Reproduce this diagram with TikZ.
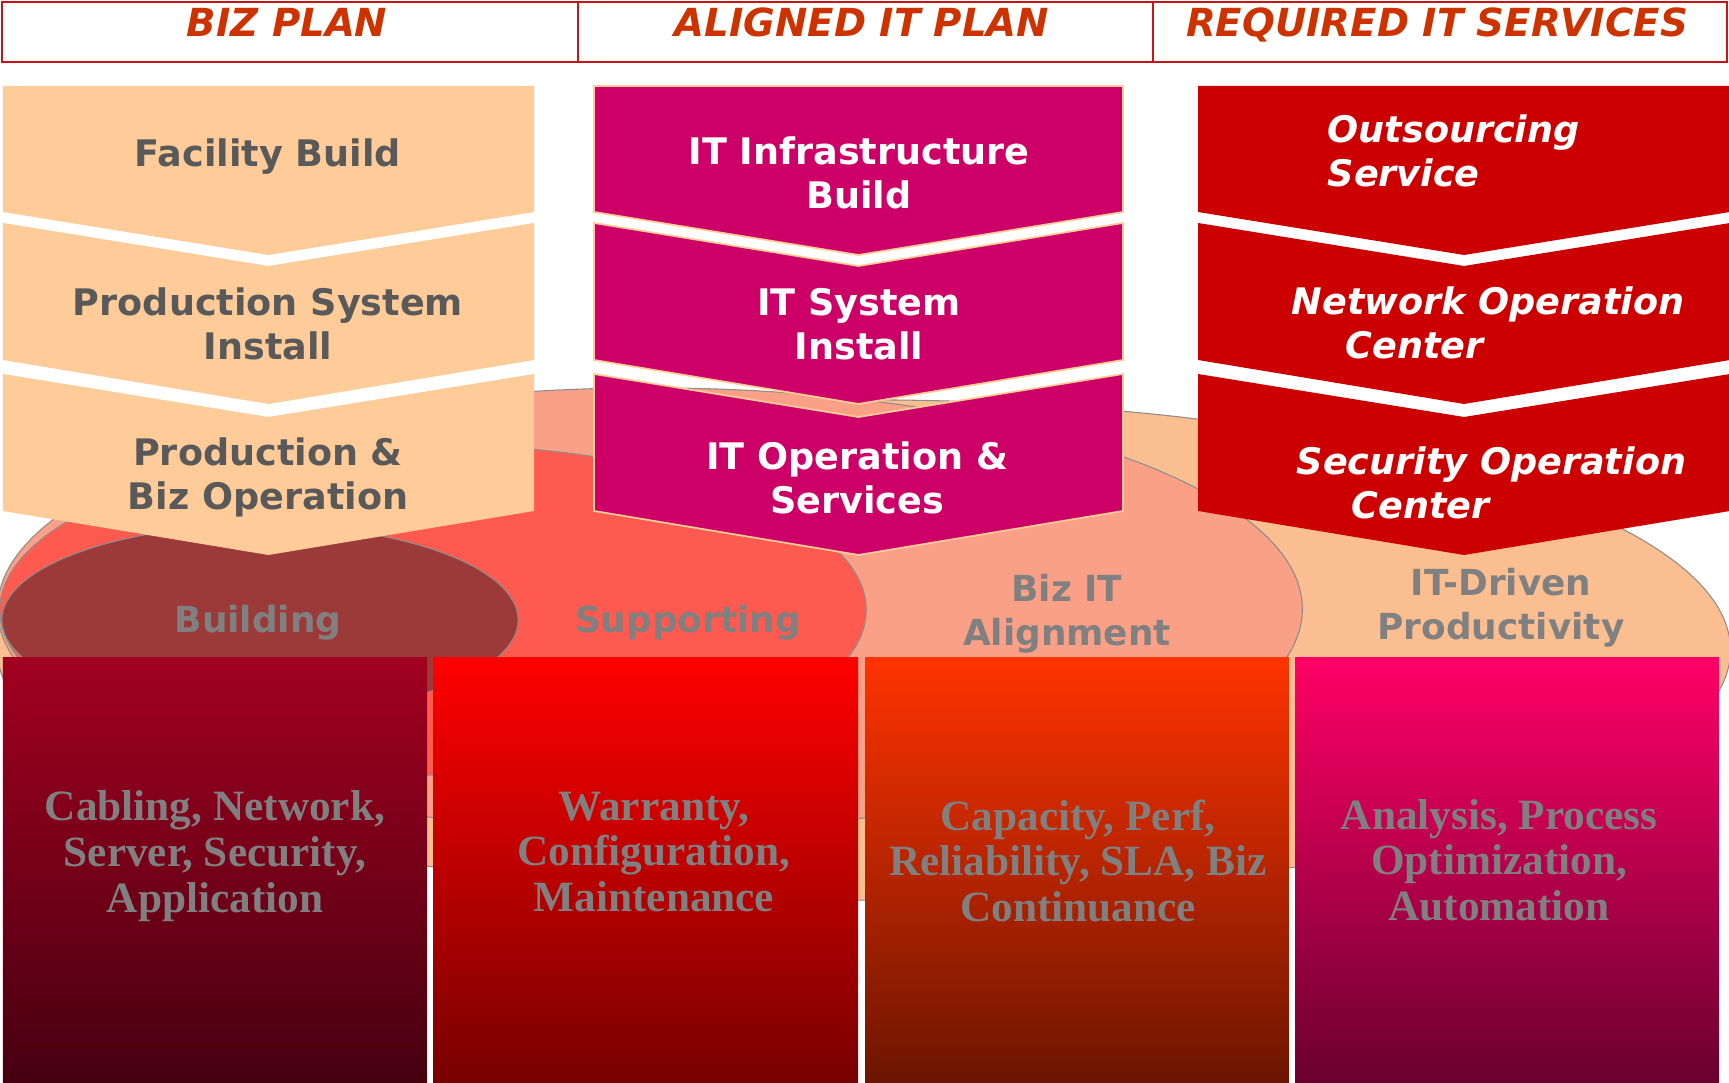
\documentclass[tikz,border=0pt]{standalone}
\usepackage{fontspec}
\newfontfamily\tahoma{DejaVu Sans}
\newfontfamily\georgia{Liberation Serif}

\definecolor{bizfill}{RGB}{255,204,153}
\definecolor{itfill}{RGB}{204,0,102}
\definecolor{svcfill}{RGB}{204,0,0}
\definecolor{headred}{RGB}{204,51,0}
\definecolor{headline}{RGB}{200,20,20}
\definecolor{txtgray}{RGB}{89,89,89}
\definecolor{lblgray}{RGB}{128,128,128}
\definecolor{ovbuild}{RGB}{156,58,58}
\definecolor{ovsupport}{RGB}{255,90,80}
\definecolor{ovalign}{RGB}{250,160,135}
\definecolor{ovdriven}{RGB}{251,190,144}
\definecolor{ovline}{RGB}{140,140,140}

\begin{document}
\begin{tikzpicture}
  [x=0.01cm,y=-0.01cm,every node/.style={inner sep=0pt},
   headtext/.style={text=headred,anchor=base,font=\tahoma\bfseries\itshape\fontsize{11}{13}\selectfont},
   chevtext/.style={align=center,font=\tahoma\bfseries\fontsize{10.4}{12.5}\selectfont},
   svctext/.style={text=white,align=left,anchor=west,font=\tahoma\bfseries\itshape\fontsize{10.4}{12.5}\selectfont},
   ovaltext/.style={text=lblgray,align=center,font=\tahoma\bfseries\fontsize{10.2}{12.5}\selectfont},
   boxtext/.style={text=lblgray,align=center,font=\georgia\bfseries\fontsize{12.3}{13}\selectfont},
   oval/.style={draw=ovline,line width=.3pt},
   bizchev/.style={fill=bizfill},
   itchev/.style={fill=itfill,draw=bizfill,line width=.5pt},
   svcchev/.style={fill=svcfill}]
  \useasboundingbox (0,0) rectangle (1729,1083);

  % header row
  \draw[headline,line width=.8pt] (2,2) rectangle (1727,62) (578,2) -- (578,62) (1153,2) -- (1153,62);
  \node[headtext] (hbiz) at (287,37) {BIZ PLAN};
  \node[headtext] (hit)  at (862,37) {ALIGNED IT PLAN};
  \node[headtext] (hsvc) at (1437,37) {REQUIRED IT SERVICES};

  % ovals, biggest first
  \fill[ovdriven,oval]  (864,650) ellipse [x radius=8.66cm,y radius=2.5cm];
  \fill[ovalign,oval]   (650,609) ellipse [x radius=6.52cm,y radius=2.21cm];
  \fill[ovsupport,oval] (433,610) ellipse [x radius=4.33cm,y radius=1.65cm];
  \fill[ovbuild,oval]   (260,620) ellipse [x radius=2.58cm,y radius=.95cm];

  % chevrons
  \foreach \xa/\xb/\sty in {3/534/bizchev,594/1123/itchev,1198/1730/svcchev} {
    \path[\sty] (\xa,86) -- (\xb,86) -- (\xb,212) -- ({(\xa+\xb)/2},255) -- (\xa,212) -- cycle;
    \foreach \ys/\yb in {223/360,374/511}
      \path[\sty] (\xa,\ys) -- ({(\xa+\xb)/2},\ys+43) -- (\xb,\ys) -- (\xb,\yb) -- ({(\xa+\xb)/2},\yb+44) -- (\xa,\yb) -- cycle;
  }

  % bottom boxes
  \shade[top color={rgb,255:red,162;green,0;blue,32},middle color={rgb,255:red,120;green,0;blue,24},bottom color={rgb,255:red,70;green,0;blue,16}] (3,658) rectangle (427,1083);
  \shade[top color={rgb,255:red,255;green,0;blue,0},middle color={rgb,255:red,200;green,0;blue,0},bottom color={rgb,255:red,120;green,0;blue,0}] (433,658) rectangle (858,1083);
  \shade[top color={rgb,255:red,255;green,51;blue,0},middle color={rgb,255:red,196;green,40;blue,0},bottom color={rgb,255:red,108;green,21;blue,0}] (865,658) rectangle (1289,1083);
  \shade[top color={rgb,255:red,255;green,0;blue,102},middle color={rgb,255:red,192;green,0;blue,80},bottom color={rgb,255:red,106;green,0;blue,48}] (1295,658) rectangle (1719,1083);

  \node[chevtext,text=txtgray] (facility) at (268,157) {Facility Build};
  \node[chevtext,text=txtgray] (prodsys)  at (268,324) {Production System\\Install};
  \node[chevtext,text=txtgray] (prodop)   at (268,477) {Production \&\\Biz Operation};

  \node[chevtext,text=white] (itinfra) at (859,173) {IT Infrastructure\\Build};
  \node[chevtext,text=white] (itsys)   at (859,324) {IT System\\Install};
  \node[chevtext,text=white] (itop)    at (857,478) {IT Operation \&\\Services};

  \node[svctext] (outsrc) at (1327,151) {Outsourcing\\Service};
  \node[svctext] (noc)    at (1291,323) {Network Operation\\\hspace*{.54cm}Center};
  \node[svctext] (soc)    at (1296,483) {Security Operation\\\hspace*{.55cm}Center};

  \node[ovaltext] (building)   at (258,623)  {Building};
  \node[ovaltext] (supporting) at (688,623)  {Supporting};
  \node[ovaltext] (alignment)  at (1067,614) {Biz IT\\Alignment};
  \node[ovaltext] (driven)     at (1501,608) {IT-Driven\\Productivity};

  \node[boxtext] (cabling)  at (215,856)  {Cabling, Network,\\Server, Security,\\Application};
  \node[boxtext] (warranty) at (654,852)  {Warranty,\\Configuration,\\Maintenance};
  \node[boxtext] (capacity) at (1078,861) {Capacity, Perf,\\Reliability, SLA, Biz\\Continuance};
  \node[boxtext] (analysis) at (1499,860) {Analysis, Process\\Optimization,\\Automation};

\end{tikzpicture}
\end{document}
